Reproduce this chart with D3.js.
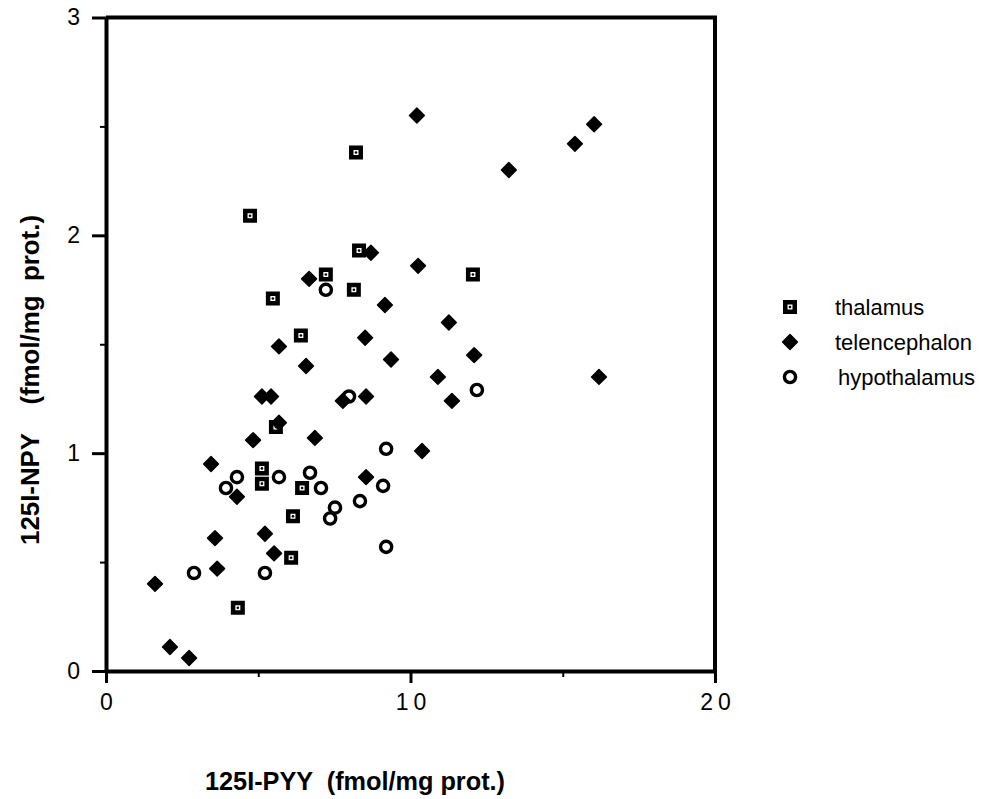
<!DOCTYPE html>
<html>
<head>
<meta charset="utf-8">
<script src="https://cdn.jsdelivr.net/npm/d3@7"></script>
<style>
  body { margin: 0; background: #fff; }
  text { font-family: "Liberation Sans", Arial, sans-serif; fill: #000; }
</style>
</head>
<body>
<div id="chart"></div>
<script>
// 125I-PYY vs 125I-NPY binding, three brain regions

// Data (fmol/mg prot.)
var thalamusPyy = [8.21, 4.73, 8.31, 12.05, 7.22, 8.14, 5.48, 6.40, 5.58, 5.12, 5.12, 6.44, 6.14, 6.08, 4.33];
var thalamusNpy = [2.38, 2.09, 1.93, 1.82, 1.82, 1.75, 1.71, 1.54, 1.12, 0.93, 0.86, 0.84, 0.71, 0.52, 0.29];

var telenPyy = [10.21, 16.03, 15.40, 13.23, 8.70, 10.25, 6.67, 9.16, 11.26, 5.68, 8.51, 6.57,
                9.36, 12.09, 10.90, 16.19, 11.36, 5.12, 5.42, 7.78, 8.54, 5.68, 4.83, 6.86,
                10.38, 3.45, 8.54, 4.30, 3.58, 5.22, 5.52, 3.65, 1.61, 2.10, 2.73];
var telenNpy = [2.55, 2.51, 2.42, 2.30, 1.92, 1.86, 1.80, 1.68, 1.60, 1.49, 1.53, 1.40,
                1.43, 1.45, 1.35, 1.35, 1.24, 1.26, 1.26, 1.24, 1.26, 1.14, 1.06, 1.07,
                1.01, 0.95, 0.89, 0.80, 0.61, 0.63, 0.54, 0.47, 0.40, 0.11, 0.06];

var hypoPyy = [7.22, 7.98, 12.18, 9.20, 4.30, 5.68, 6.70, 3.94, 7.06, 9.10, 8.34, 7.52, 7.36, 9.20, 2.89, 5.22];
var hypoNpy = [1.75, 1.26, 1.29, 1.02, 0.89, 0.89, 0.91, 0.84, 0.84, 0.85, 0.78, 0.75, 0.70, 0.57, 0.45, 0.45];

var xTicks = [0, 10, 20];
var xMinorTicks = [5, 15];
var yTicks = [0, 1, 2, 3];
var yMinorTicks = [0.5, 1.5, 2.5];

var seriesNames = ["thalamus", "telencephalon", "hypothalamus"];

// Layout
var width = 1002;
var height = 799;
var plotLeft = 106, plotRight = 715, plotTop = 17.5, plotBottom = 671;

var x = d3.scaleLinear().domain([0, 20]).range([plotLeft, plotRight]);
var y = d3.scaleLinear().domain([0, 3]).range([plotBottom, plotTop]);

var svg = d3.select("#chart")
  .append("svg")
    .attr("width", width)
    .attr("height", height);

// Frame (top and right)
svg.append("path")
  .attr("d", "M" + plotLeft + "," + plotTop + "H" + plotRight + "V" + plotBottom)
  .attr("fill", "none")
  .attr("stroke", "#000")
  .attr("stroke-width", 4);

// Axes
function styleAxis(g) {
  g.selectAll(".domain").attr("stroke-width", 4);
  g.selectAll(".tick line").attr("stroke-width", 3);
  g.selectAll("text")
    .style("font-family", "'Liberation Sans', Arial, sans-serif")
    .style("font-size", "23px")
    .attr("fill", "#000");
}

var xAxis = svg.append("g")
  .attr("transform", "translate(0," + plotBottom + ")")
  .call(d3.axisBottom(x).tickValues(xTicks).tickSize(12).tickPadding(11).tickSizeOuter(0)
    .tickFormat(function(d) { return d; }))
  .call(styleAxis);
xAxis.selectAll("text").style("letter-spacing", "5px").attr("dx", "2.5px");

svg.append("g")
  .attr("transform", "translate(0," + plotBottom + ")")
  .call(d3.axisBottom(x).tickValues(xMinorTicks).tickSize(6).tickFormat(""))
  .call(function(g) { g.select(".domain").remove(); g.selectAll(".tick line").attr("stroke-width", 2); });

svg.append("g")
  .attr("transform", "translate(" + plotLeft + ",0)")
  .call(d3.axisLeft(y).tickValues(yTicks).tickSize(14).tickPadding(12).tickSizeOuter(0)
    .tickFormat(function(d) { return d; }))
  .call(styleAxis);

svg.append("g")
  .attr("transform", "translate(" + plotLeft + ",0)")
  .call(d3.axisLeft(y).tickValues(yMinorTicks).tickSize(6).tickFormat(""))
  .call(function(g) { g.select(".domain").remove(); g.selectAll(".tick line").attr("stroke-width", 2); });

// Axis titles
svg.append("text")
  .attr("x", 205)
  .attr("y", 790)
  .attr("textLength", 300)
  .attr("lengthAdjust", "spacingAndGlyphs")
  .style("font-size", "25px")
  .style("font-weight", "bold")
  .style("white-space", "pre")
  .text("125I-PYY  (fmol/mg prot.)");

svg.append("text")
  .attr("transform", "translate(39,545) rotate(-90)")
  .attr("textLength", 330)
  .attr("lengthAdjust", "spacingAndGlyphs")
  .style("font-size", "25px")
  .style("font-weight", "bold")
  .style("white-space", "pre")
  .text("125I-NPY    (fmol/mg  prot.)");

// Marker drawers
var diamond = d3.symbol().type(d3.symbolSquare).size(110);
var square = d3.symbol().type(d3.symbolSquare).size(90);

function drawThalamus(g) {
  g.append("path")
    .attr("d", square())
    .attr("fill", "#fff")
    .attr("stroke", "#000")
    .attr("stroke-width", 4.5);
  g.append("circle")
    .attr("r", 1.3)
    .attr("fill", "#000");
}
function drawTelen(g) {
  g.append("path")
    .attr("d", diamond())
    .attr("transform", "rotate(45)")
    .attr("fill", "#000")
    .attr("stroke", "#000")
    .attr("stroke-width", 1.5)
    .attr("stroke-linejoin", "round");
}
function drawHypo(g) {
  g.append("circle")
    .attr("r", 5.6)
    .attr("fill", "#fff")
    .attr("stroke", "#000")
    .attr("stroke-width", 3.4);
}

function plotSeries(xs, ys, cls, drawer) {
  svg.append("g").selectAll("g." + cls)
    .data(d3.zip(xs, ys))
    .enter().append("g")
      .attr("class", cls)
      .attr("transform", function(d) { return "translate(" + x(d[0]) + "," + y(d[1]) + ")"; })
      .each(function() { drawer(d3.select(this)); });
}

plotSeries(hypoPyy, hypoNpy, "hypo", drawHypo);
plotSeries(thalamusPyy, thalamusNpy, "thal", drawThalamus);
plotSeries(telenPyy, telenNpy, "telen", drawTelen);

// Legend
var drawers = [drawThalamus, drawTelen, drawHypo];
var legendY = [307, 342, 377];
var legend = svg.append("g");
seriesNames.forEach(function(name, i) {
  var row = legend.append("g").attr("transform", "translate(790," + legendY[i] + ")");
  drawers[i](row);
  row.append("text")
    .attr("x", i === 2 ? 48 : 45)
    .attr("dy", "0.35em")
    .style("font-size", "22px")
    .text(name);
});
</script>
</body>
</html>
